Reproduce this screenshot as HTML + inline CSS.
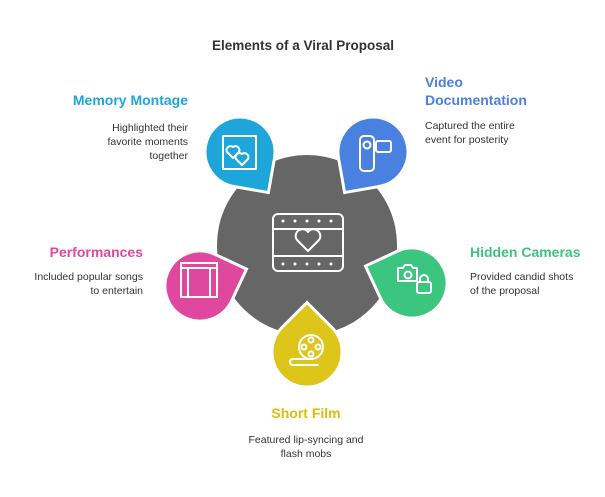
<!DOCTYPE html>
<html><head><meta charset="utf-8"><style>
body{margin:0;background:#fff;}
svg{display:block;font-family:"Liberation Sans",sans-serif;}
.h{font-weight:bold;font-size:14px;}
.d{font-size:10.5px;fill:#333;}
.ic{fill:none;stroke:#fff;stroke-width:2;stroke-linecap:round;stroke-linejoin:round;}
</style></head><body>
<svg width="605" height="497" viewBox="0 0 605 497">
<rect width="605" height="497" fill="#fff"/>
<text x="303" y="50" text-anchor="middle" font-weight="bold" font-size="13.5" fill="#333">Elements of a Viral Proposal</text>
<circle cx="307" cy="245" r="90" fill="#666"/>
<defs><path id="drop" d="M49.5,0 L24.75,24.75 A35,35 0 1 1 24.75,-24.75 Z"/></defs>
<g stroke="#fff" stroke-width="3">
<use href="#drop" transform="translate(240,152) rotate(55)" fill="#1EA6DA"/>
<use href="#drop" transform="translate(373,152) rotate(125)" fill="#4A80E0"/>
<use href="#drop" transform="translate(200,286) rotate(-20)" fill="#E0479E"/>
<use href="#drop" transform="translate(412,283) rotate(200)" fill="#3CC57F"/>
<use href="#drop" transform="translate(307,352) rotate(-90)" fill="#DDC51A"/>
</g>
<!-- center icon -->
<g class="ic">
<rect x="273" y="214" width="70" height="57" rx="5"/>
<line x1="273" y1="229" x2="343" y2="229"/><line x1="273" y1="256" x2="343" y2="256"/>
<path d="M308,251 L297,240 A6,6 0 0 1 308,232 A6,6 0 0 1 319,240 Z"/>
</g>
<g fill="#fff"><circle cx="283" cy="221" r="1.5"/><circle cx="295" cy="221" r="1.5"/><circle cx="307" cy="221" r="1.5"/><circle cx="319" cy="221" r="1.5"/><circle cx="331" cy="221" r="1.5"/>
<circle cx="283" cy="264" r="1.5"/><circle cx="295" cy="264" r="1.5"/><circle cx="307" cy="264" r="1.5"/><circle cx="319" cy="264" r="1.5"/><circle cx="331" cy="264" r="1.5"/></g>
<!-- memory icon -->
<g class="ic" stroke-width="1.6"><rect x="223" y="136" width="33" height="33"/>
<path d="M233,158 L227,152 A4,4 0 0 1 233,147 A4,4 0 0 1 239,152 Z"/><path d="M242,165 L236,159 A4,4 0 0 1 242,154 A4,4 0 0 1 248,159 Z"/></g>
<!-- video icon -->
<g class="ic" stroke-width="1.6"><rect x="360" y="136" width="14" height="35" rx="4"/><circle cx="367" cy="145" r="3.5"/><rect x="376" y="141" width="15" height="11" rx="2"/></g>
<!-- performances icon -->
<g class="ic" stroke-width="1.6"><rect x="181" y="263" width="36" height="34"/><line x1="181" y1="268" x2="217" y2="268"/><line x1="188" y1="268" x2="188" y2="297"/><line x1="210" y1="268" x2="210" y2="297"/></g>
<!-- hidden cam icon -->
<g class="ic" stroke-width="1.6"><path d="M398,268 h5 l2,-3 h6 l2,3 h4 v13 h-19 z"/><circle cx="408" cy="275" r="3.5"/><rect x="417" y="282" width="14" height="11" rx="2"/><path d="M420,282 v-3 a4,4 0 0 1 8,0 v3"/></g>
<!-- film reel icon -->
<g class="ic" stroke-width="1.6"><circle cx="311" cy="347" r="12"/><circle cx="311" cy="340" r="2.5"/><circle cx="311" cy="354" r="2.5"/><circle cx="304" cy="347" r="2.5"/><circle cx="318" cy="347" r="2.5"/><path d="M311,359 h-18 a3,3 0 0 0 0,6 h25"/></g>
<!-- labels -->
<text class="h" x="188" y="105" text-anchor="end" fill="#1EA6DA">Memory Montage</text>
<text class="d" text-anchor="end"><tspan x="188" y="131">Highlighted their</tspan><tspan x="188" y="145">favorite moments</tspan><tspan x="188" y="159">together</tspan></text>
<text class="h" fill="#4A80E0"><tspan x="425" y="87">Video</tspan><tspan x="425" y="105">Documentation</tspan></text>
<text class="d"><tspan x="425" y="129">Captured the entire</tspan><tspan x="425" y="143">event for posterity</tspan></text>
<text class="h" x="143" y="257" text-anchor="end" fill="#E0479E">Performances</text>
<text class="d" text-anchor="end"><tspan x="143" y="280">Included popular songs</tspan><tspan x="143" y="294">to entertain</tspan></text>
<text class="h" x="470" y="257" fill="#3CC57F">Hidden Cameras</text>
<text class="d"><tspan x="470" y="280">Provided candid shots</tspan><tspan x="470" y="294">of the proposal</tspan></text>
<text class="h" x="306" y="418" text-anchor="middle" fill="#D9BE10">Short Film</text>
<text class="d" text-anchor="middle"><tspan x="306" y="443">Featured lip-syncing and</tspan><tspan x="306" y="457">flash mobs</tspan></text>
</svg>
</body></html>
